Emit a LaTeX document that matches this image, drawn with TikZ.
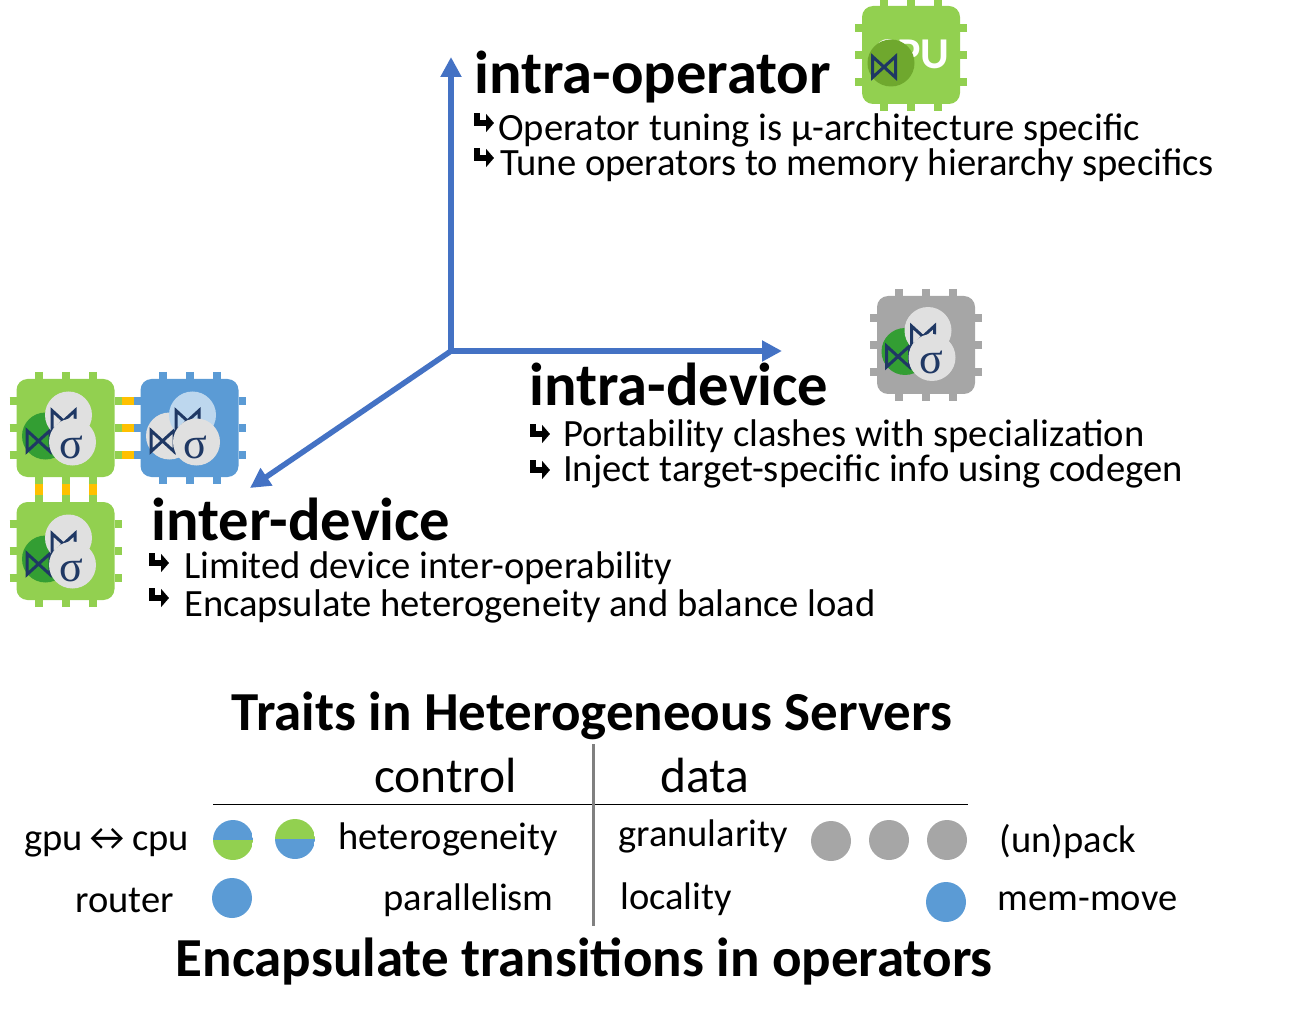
\documentclass[tikz,border=0pt]{standalone}
\usepackage{fontspec}
\setmainfont{Carlito}
\newfontfamily\sigmafont{Liberation Serif}
\usetikzlibrary{arrows.meta, calc}

\definecolor{axisblue}{HTML}{4472C4}
\definecolor{cpugreen}{HTML}{92D050}
\definecolor{gpublue}{HTML}{5B9BD5}
\definecolor{chipgray}{HTML}{A6A6A6}
\definecolor{opgray}{HTML}{E0E0E0}
\definecolor{oplight}{HTML}{BDD7EE}
\definecolor{joingreen}{HTML}{339E33}
\definecolor{joinolive}{HTML}{6FA82E}
\definecolor{opnavy}{HTML}{1F3864}
\definecolor{linkyellow}{HTML}{FFC000}

\tikzset{
  axisline/.style={draw=axisblue, line width=5.5pt, -{Triangle[length=20pt, width=20pt]}},
  chipbox/.style={rounded corners=11pt, minimum width=98pt, minimum height=98pt, inner sep=0pt},
  pinline/.style={line width=8pt},
  linkbar/.style={draw=linkyellow, line width=8pt},
  opcircle/.style={circle, minimum size=47pt, inner sep=0pt},
  dotmark/.style={circle, minimum size=40pt, inner sep=0pt},
  headtext/.style={anchor=base west, inner sep=0pt, font=\fontsize{60.6}{62}\selectfont\bfseries},
  bodytext/.style={anchor=base west, inner sep=0pt, font=\fontsize{38.6}{40}\selectfont},
  bulletline/.style={line width=6pt, -{Triangle[length=8pt, width=18pt]}},
  titletext/.style={anchor=base west, inner sep=0pt, font=\fontsize{55}{57}\selectfont\bfseries},
  columntext/.style={anchor=base west, inner sep=0pt, font=\fontsize{49.5}{51}\selectfont},
  traittext/.style={anchor=base west, inner sep=0pt, font=\fontsize{38.5}{40}\selectfont},
  halfdot/.style 2 args={dotmark, path picture={
    \fill[#1] (path picture bounding box.north west) rectangle (path picture bounding box.east);
    \fill[#2] (path picture bounding box.south east) rectangle (path picture bounding box.west);
  }},
}

% chip: name, centre, colour
\newcommand{\chipbody}[3]{
  \node[chipbox, fill=#3] (#1) at #2 {};
  \foreach \i/\d in {1/-27,2/0,3/27} {
    \path (#1.center) ++(\d,-56) coordinate (#1-n\i);
    \path (#1.center) ++(\d,56) coordinate (#1-s\i);
    \path (#1.center) ++(-56,\d) coordinate (#1-w\i);
    \path (#1.center) ++(56,\d) coordinate (#1-e\i);
    \draw[pinline, draw=#3] (#1-n\i) -- ++(0,7);
    \draw[pinline, draw=#3] (#1-s\i) -- ++(0,-7);
    \draw[pinline, draw=#3] (#1-w\i) -- ++(7,0);
    \draw[pinline, draw=#3] (#1-e\i) -- ++(-7,0);
  }
}

% bowtie glyph, drawn as lines
\newcommand{\joinmark}[1]{
  \draw[opnavy, line width=3pt, line join=miter] ($#1+(-11.5,-10.5)$) -- ($#1+(11.5,10.5)$) -- ($#1+(11.5,-10.5)$) -- ($#1+(-11.5,10.5)$) -- cycle;
}

% three operators: name, centre, join colour, top colour
\newcommand{\opgroup}[4]{
  \node[opcircle, fill=#3] (#1-join) at ($#2+(-20,8)$) {};
  \joinmark{(#1-join.center)+(-7,5)}
  \node[opcircle, fill=#4] (#1-top) at ($#2+(3,-13)$) {};
  \joinmark{(#1-top.center)+(-5,6)}
  \node[opcircle, fill=opgray] (#1-sel) at ($#2+(7,14)$) {};
  \node[inner sep=0pt, text=opnavy, font=\fontsize{44}{44}\selectfont\sigmafont] (#1-sigma) at ($(#1-sel.center)+(-1,5)$) {σ};
}

% bent arrow in front of a line: name, top of the bar
\newcommand{\bulletmark}[2]{
  \coordinate (#1) at #2;
  \coordinate (#1-end) at ($#2+(17,10)$);
  \draw[bulletline] (#1) |- (#1-end);
}

\begin{document}
\begin{tikzpicture}[x=1pt, y=-1pt]
\useasboundingbox (0,0) rectangle (1294,1024);

% axes
\coordinate (origin) at (451,351);
\coordinate (upend) at (451,57);
\coordinate (rightend) at (782,351);
\coordinate (leftend) at (250,488);
\draw[axisline] (origin) -- (upend);
\draw[axisline] (origin) -- (rightend);
\draw[axisline] (origin) -- (leftend);

% chips
\chipbody{cpuchip}{(911,55)}{cpugreen}
\node[anchor=base, inner sep=0pt, text=white, font=\fontsize{44}{44}\selectfont\bfseries] (cpulabel) at (912,68.5) {CPU};
\node[opcircle, fill=joinolive] (cpujoin) at (891,63) {};
\joinmark{(cpujoin.center)+(-7,4)}

\chipbody{graychip}{(926,345)}{chipgray}
\opgroup{grayops}{(925,343.5)}{joingreen}{opgray}

\chipbody{cpuA}{(65.5,428)}{cpugreen}
\chipbody{gpuA}{(189.5,428)}{gpublue}
\chipbody{cpuB}{(65.5,551)}{cpugreen}
\foreach \i in {1,2,3} {
  \draw[linkbar] (cpuA-e\i) -- (gpuA-w\i);
  \draw[linkbar] (cpuA-s\i) -- (cpuB-n\i);
}
\opgroup{cpuAops}{(65.5,428)}{joingreen}{opgray}
\opgroup{gpuAops}{(189.5,428)}{opgray}{oplight}
\opgroup{cpuBops}{(65.5,551)}{joingreen}{opgray}

% intra-operator
\node[headtext] (intraop) at (474.5,94) {intra-operator};
\bulletmark{intraopA}{(477,113)}
\node[bodytext] (intraopAtext) at (498,141) {Operator tuning is µ-architecture specific};
\bulletmark{intraopB}{(477,148)}
\node[bodytext] (intraopBtext) at (500,176) {Tune operators to memory hierarchy specifics};

% intra-device
\node[headtext] (intradev) at (529.5,406) {intra-device};
\bulletmark{intradevA}{(533,424)}
\node[bodytext] (intradevAtext) at (563,446.5) {Portability clashes with specialization};
\bulletmark{intradevB}{(533,460)}
\node[bodytext] (intradevBtext) at (563,481) {Inject target-specific info using codegen};

% inter-device
\node[headtext] (interdev) at (151.5,540) {inter-device};
\bulletmark{interdevA}{(152,553)}
\node[bodytext] (interdevAtext) at (184,578) {Limited device inter-operability};
\bulletmark{interdevB}{(152,588)}
\node[bodytext] (interdevBtext) at (184,616) {Encapsulate heterogeneity and balance load};

% traits table
\node[titletext] (traits) at (231.5,730) {Traits in Heterogeneous Servers};
\node[columntext] (control) at (374,792) {control};
\node[columntext] (data) at (660,792) {data};
\coordinate (ruleleft) at (213,804);
\coordinate (ruleright) at (968,804);
\coordinate (splittop) at (593,744);
\coordinate (splitbot) at (593,926);
\draw[line width=1pt] (ruleleft) -- (ruleright);
\draw[draw=gray, line width=3pt] (splittop) -- (splitbot);

\node[traittext] (gpucpu) at (24,850) {gpu↔cpu};
\node[halfdot={gpublue}{cpugreen}] (dotA) at (233,840) {};
\node[halfdot={cpugreen}{gpublue}] (dotB) at (295,839) {};
\node[traittext] (hetero) at (338,849) {heterogeneity};
\node[traittext] (granul) at (618,846) {granularity};
\node[dotmark, fill=chipgray] (dotC) at (831,841) {};
\node[dotmark, fill=chipgray] (dotD) at (889,840) {};
\node[dotmark, fill=chipgray] (dotE) at (947,840) {};
\node[traittext] (unpack) at (999.5,852) {(un)pack};

\node[traittext] (router) at (75,912) {router};
\node[dotmark, fill=gpublue] (dotF) at (232,898) {};
\node[traittext] (parallel) at (383.5,910) {parallelism};
\node[traittext] (locality) at (620,909) {locality};
\node[dotmark, fill=gpublue] (dotG) at (946,902) {};
\node[traittext] (memmove) at (997.5,910) {mem-move};

\node[titletext] (encaps) at (175.5,976) {Encapsulate transitions in operators};

\end{tikzpicture}
\end{document}
